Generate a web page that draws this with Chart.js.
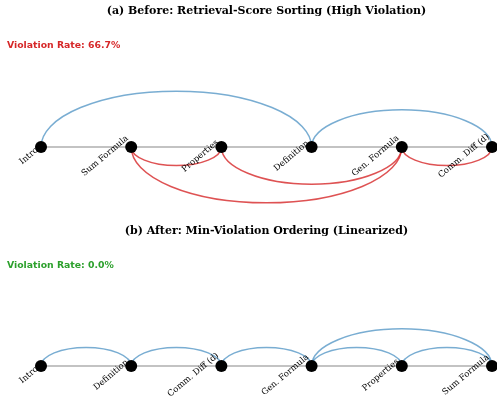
<!DOCTYPE html>
<html>
<head>
<meta charset="utf-8">
<script src="https://cdn.jsdelivr.net/npm/chart.js@4/dist/chart.umd.min.js"></script>
<style>
  html, body { margin: 0; padding: 0; background: #fff; }
  #wrap { position: relative; width: 497px; height: 400px; }
  .panel { position: absolute; left: 0; width: 497px; }
  #panelA { top: 0; height: 220px; }
  #panelB { top: 220px; height: 180px; }
</style>
</head>
<body>
<div id="wrap">
  <div class="panel" id="panelA"><canvas id="chartA" width="497" height="220"></canvas></div>
  <div class="panel" id="panelB"><canvas id="chartB" width="497" height="180"></canvas></div>
</div>
<script>
// Prerequisite edges: [prerequisite, dependent]
const dependencyEdges = [
  ['Intro', 'Definition'],
  ['Definition', 'Comm. Diff (d)'],
  ['Comm. Diff (d)', 'Gen. Formula'],
  ['Gen. Formula', 'Properties'],
  ['Gen. Formula', 'Sum Formula'],
  ['Properties', 'Sum Formula']
];

// Chunk order produced by retrieval-score sorting
const beforeOrder = ['Intro', 'Sum Formula', 'Properties', 'Definition', 'Gen. Formula', 'Comm. Diff (d)'];
// Chunk order produced by min-violation linearization
const afterOrder = ['Intro', 'Definition', 'Comm. Diff (d)', 'Gen. Formula', 'Properties', 'Sum Formula'];

const panelTitles = [
  '(a) Before: Retrieval-Score Sorting (High Violation)',
  '(b) After: Min-Violation Ordering (Linearized)'
];

const COLOR_OK = 'rgba(31,119,180,0.6)';
const COLOR_BAD = 'rgba(214,39,40,0.8)';
const ARC_RISE = 0.2;      // arc height per position of span (data units)
const Y_PX = 93;           // vertical pixels per data unit
const LABEL_ANGLE = 40;    // degrees

function violationRate(order) {
  let bad = 0;
  dependencyEdges.forEach(([a, b]) => { if (order.indexOf(a) > order.indexOf(b)) bad++; });
  return bad / dependencyEdges.length * 100;
}

const arcPlugin = {
  id: 'arcs',
  afterDatasetDraw(chart, args) {
    if (args.index !== 1) return;  // after the axis line, before the nodes
    const { ctx, scales: { x, y } } = chart;
    const order = chart.options.plugins.arcs.order;
    ctx.save();
    ctx.lineWidth = 1.5;
    dependencyEdges.forEach(([a, b]) => {
      const ia = order.indexOf(a), ib = order.indexOf(b);
      const lo = Math.min(ia, ib), hi = Math.max(ia, ib);
      const span = hi - lo;
      const forward = ia < ib;
      const cx = x.getPixelForValue((lo + hi) / 2);
      const cy = y.getPixelForValue(0);
      const rx = x.getPixelForValue(hi) - cx;
      const ry = Math.abs(y.getPixelForValue(ARC_RISE * span) - cy);
      ctx.beginPath();
      if (forward) ctx.ellipse(cx, cy, rx, ry, 0, Math.PI, 2 * Math.PI);
      else ctx.ellipse(cx, cy, rx, ry, 0, 0, Math.PI);
      ctx.strokeStyle = forward ? COLOR_OK : COLOR_BAD;
      ctx.stroke();
    });
    // rotated chunk names under each node
    ctx.font = '8.5px "DejaVu Serif"';
    ctx.fillStyle = '#000';
    ctx.textAlign = 'center';
    ctx.textBaseline = 'middle';
    const th = LABEL_ANGLE * Math.PI / 180;
    order.forEach((name, i) => {
      const px = x.getPixelForValue(i);
      const py = y.getPixelForValue(0);
      const w = ctx.measureText(name).width;
      const h = 9;
      const W = w * Math.cos(th) + h * Math.sin(th);
      ctx.save();
      ctx.translate(px - 1 - W / 2, py + 9);
      ctx.rotate(-th);
      ctx.fillText(name, 0, 0);
      ctx.restore();
    });
    ctx.restore();
  },
  afterDraw(chart) {
    const { ctx, scales: { x } } = chart;
    const opts = chart.options.plugins.arcs;
    ctx.save();
    ctx.font = 'bold 11px "DejaVu Serif"';
    ctx.fillStyle = '#000';
    ctx.textAlign = 'center';
    ctx.textBaseline = 'middle';
    ctx.fillText(opts.title, x.getPixelForValue((opts.order.length - 1) / 2), 11);
    const rate = violationRate(opts.order);
    ctx.font = 'bold 9.3px "DejaVu Sans"';
    ctx.textAlign = 'left';
    ctx.fillStyle = rate > 0 ? '#d62728' : '#2ca02c';
    ctx.fillText('Violation Rate: ' + rate.toFixed(1) + '%', 7, 46);
    ctx.restore();
  }
};

function buildPanel(canvasId, order, title, baselinePx, height) {
  const nodes = order.map((_, i) => ({ x: i, y: 0 }));
  const axisLine = [{ x: 0, y: 0 }, { x: order.length - 1, y: 0 }];
  const xPx = 90.2, xLeft = 41, width = 497;
  const xMin = -xLeft / xPx;
  return new Chart(document.getElementById(canvasId), {
    type: 'scatter',
    data: {
      datasets: [
        { data: nodes, pointRadius: 6, pointBackgroundColor: '#000', pointBorderWidth: 0, showLine: false, clip: false },
        { data: axisLine, showLine: true, pointRadius: 0, borderColor: '#888', borderWidth: 1.2, clip: false }
      ]
    },
    options: {
      responsive: false,
      animation: false,
      events: [],
      layout: { padding: 0, autoPadding: false },
      scales: {
        x: { type: 'linear', display: false, min: xMin, max: xMin + width / xPx },
        y: { type: 'linear', display: false, min: -(height - baselinePx) / Y_PX, max: baselinePx / Y_PX }
      },
      plugins: {
        legend: { display: false },
        tooltip: { enabled: false },
        arcs: { order: order, title: title }
      }
    },
    plugins: [arcPlugin]
  });
}

buildPanel('chartA', beforeOrder, panelTitles[0], 147, 220);
buildPanel('chartB', afterOrder, panelTitles[1], 146, 180);
</script>
</body>
</html>
